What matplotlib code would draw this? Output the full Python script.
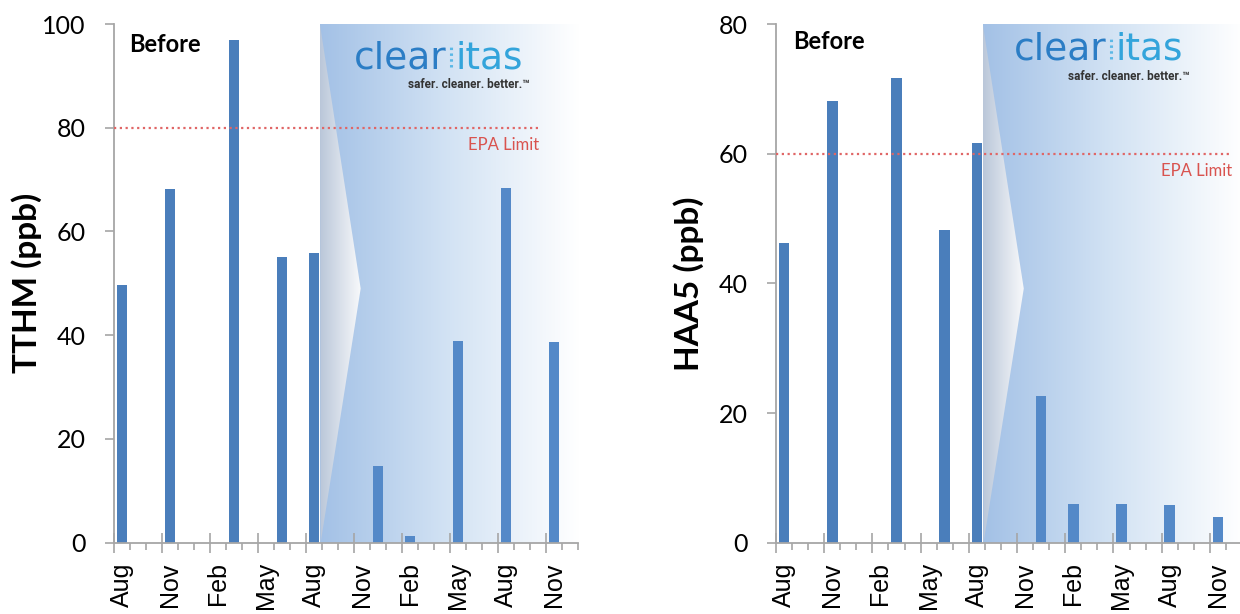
import numpy as np
import matplotlib.pyplot as plt
from matplotlib.colors import LinearSegmentedColormap
from matplotlib.patches import Polygon

plt.rcParams['font.family'] = ['Lato', 'DejaVu Sans']

nan = np.nan
months = ['Aug', 'Sep', 'Oct', 'Nov', 'Dec', 'Jan', 'Feb', 'Mar', 'Apr', 'May',
          'Jun', 'Jul', 'Aug', 'Sep', 'Oct', 'Nov', 'Dec', 'Jan', 'Feb', 'Mar',
          'Apr', 'May', 'Jun', 'Jul', 'Aug', 'Sep', 'Oct', 'Nov', 'Dec']
tthm = [49.7, nan, nan, 68.1, nan, nan, nan, 96.9, nan, nan, 55.1, nan, 55.9, nan,
        nan, nan, 14.8, nan, 1.3, nan, nan, 38.9, nan, nan, 68.4, nan, nan, 38.6, nan]
haa5 = [46.2, nan, nan, 68.2, nan, nan, nan, 71.7, nan, nan, 48.2, nan, 61.7, nan,
        nan, nan, 22.7, nan, 6.0, nan, nan, 5.9, nan, nan, 5.8, nan, nan, 3.9, nan]
tthm_limit = 80
haa5_limit = 60
last_before = 12  # last sample taken before treatment

GRAY = '#a6a6a6'
grad = np.linspace(0, 1, 256).reshape(1, -1)
shade_cmap = LinearSegmentedColormap.from_list('shade', ['#a3c1e6', '#d3e3f4', '#ffffff'])
chev_cmap = LinearSegmentedColormap.from_list('chev', ['#bac7d9', '#f8f9fb'])


def panel(ax, values, ymax, ylabel, limit, limit_end, logo_x, logo_y, before_xy):
    n = len(values)
    x = np.arange(n)
    vals = np.array(values, dtype=float)
    has = ~np.isnan(vals)

    # treatment period: blue gradient with a light chevron at its left edge
    x0 = last_before + 0.37
    ax.imshow(grad, cmap=shade_cmap, extent=(x0, n - 0.5, 0, ymax),
              aspect='auto', zorder=0, interpolation='bicubic')
    tip = (x0 + 2.55, ymax * 0.49)
    chev = Polygon([(x0, ymax), tip, (x0 + 0.05, 0)], closed=True,
                   facecolor='none', edgecolor='none')
    ax.add_patch(chev)
    im = ax.imshow(grad, cmap=chev_cmap, extent=(x0, tip[0], 0, ymax),
                   aspect='auto', zorder=0.5, interpolation='bicubic')
    im.set_clip_path(chev)

    colors = ['#4a7ebb' if i <= last_before else '#5489c8' for i in x[has]]
    ax.bar(x[has], vals[has], width=0.66, color=colors, zorder=2)

    ax.plot([-0.5, limit_end], [limit, limit], color='#e06666', lw=1.6,
            ls=(0, (1, 1.6)), zorder=3)
    ax.annotate('EPA Limit', (limit_end, limit), xytext=(0, -6.5),
                textcoords='offset points', ha='right', va='top',
                color='#d9534f', fontsize=12)

    ax.text(before_xy[0], before_xy[1], 'Before', transform=ax.transAxes,
            fontsize=17, fontweight='bold', va='top', ha='left')

    # logo
    logo_font = dict(transform=ax.transAxes, va='baseline', fontsize=27,
                     family=['DejaVu Sans'])
    ax.text(logo_x, logo_y, 'clear', ha='right', color='#2b7dc5', **logo_font)
    ax.text(logo_x + 0.018, logo_y, 'itas', ha='left', color='#33a4db', **logo_font)
    ax.plot([logo_x + 0.008, logo_x + 0.008], [logo_y + 0.002, logo_y + 0.04],
            transform=ax.transAxes, color='#5bb8e6', lw=2.2, ls=(0, (0.8, 1.1)))
    ax.text(logo_x + 0.178, logo_y - 0.038, 'safer. cleaner. better.\u2122',
            transform=ax.transAxes, ha='right', va='baseline', fontsize=8.5,
            fontweight='bold', color='#333333', family=['Roboto', 'DejaVu Sans'])

    ax.set_xlim(-0.5, n - 0.5)
    ax.set_ylim(0, ymax)
    ax.set_yticks(np.arange(0, ymax + 1, 20))
    ax.tick_params(axis='y', direction='out', length=6.5, width=1.2, color=GRAY,
                   labelsize=18, pad=14)
    ax.set_xticks(np.arange(-0.5, n, 3))
    ax.set_xticks(np.arange(-0.5, n, 1), minor=True)
    ax.tick_params(axis='x', which='major', direction='inout', length=14,
                   width=1.2, color=GRAY, labelbottom=False)
    ax.tick_params(axis='x', which='minor', direction='out', length=5,
                   width=1.2, color=GRAY)
    for s in ['top', 'right']:
        ax.spines[s].set_visible(False)
    for s in ['left', 'bottom']:
        ax.spines[s].set_color(GRAY)
        ax.spines[s].set_linewidth(1.3)

    sec = ax.secondary_xaxis('bottom')
    sec.set_xticks(x[::3], [months[i] for i in x[::3]])
    sec.tick_params(length=0, pad=14, labelsize=18, labelrotation=90)
    for lab in sec.get_xticklabels():
        lab.set_family(['Liberation Sans', 'DejaVu Sans'])
    sec.spines['bottom'].set_visible(False)

    ax.set_ylabel(ylabel, fontsize=24, fontweight='bold')
    ax.yaxis.set_label_coords(-0.155, 0.5)


fig = plt.figure(figsize=(12.4, 6.14), dpi=100)
ax1 = fig.add_axes([0.0919, 0.1161, 0.3742, 0.8448])
ax2 = fig.add_axes([0.6258, 0.1161, 0.3758, 0.8448])

panel(ax1, tthm, 100, 'TTHM (ppb)', tthm_limit, 26.1, 0.718, 0.915, (0.032, 0.983))
panel(ax2, haa5, 80, 'HAA5 (ppb)', haa5_limit, 27.9, 0.710, 0.931, (0.036, 0.989))

fig.savefig('out.png', dpi=100)
